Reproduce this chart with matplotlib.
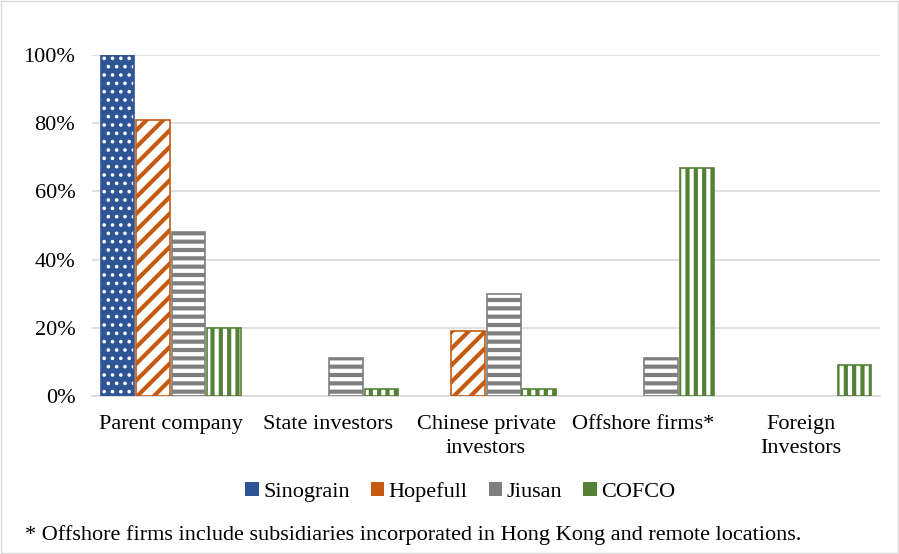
import matplotlib.pyplot as plt
import numpy as np
from matplotlib.patches import Rectangle

plt.rcParams['font.family'] = ['Liberation Serif', 'DejaVu Serif']

categories = ['Parent company', 'State investors', 'Chinese private\ninvestors',
              'Offshore firms*', 'Foreign\nInvestors']
series = ['Sinograin', 'Hopefull', 'Jiusan', 'COFCO']
sinograin = [1.00, 0, 0, 0, 0]
hopefull = [0.81, 0, 0.19, 0, 0]
jiusan = [0.48, 0.11, 0.30, 0.11, 0]
cofco = [0.20, 0.02, 0.02, 0.67, 0.09]
yticks = [0, 0.2, 0.4, 0.6, 0.8, 1.0]
footnote = '* Offshore firms include subsidiaries incorporated in Hong Kong and remote locations.'

values = [sinograin, hopefull, jiusan, cofco]
colors = ['#2F5597', '#C55A11', '#7F7F7F', '#538135']
# (face, hatch colour, hatch, hatch linewidth)
styles = [
    ('#2F5597', 'white', '..', 1.4),
    ('white', '#C55A11', '//', 3.0),
    ('#7F7F7F', 'white', '--', 3.0),
    ('white', '#538135', '||', 3.0),
]

fig = plt.figure(figsize=(8.99, 5.54), dpi=100)
ax = fig.add_axes([92 / 899, 1 - 396 / 554, 788 / 899, 341 / 554])

x = np.arange(len(categories))
w = 0.225
for i, (name, vals) in enumerate(zip(series, values)):
    face, hcol, hatch, hlw = styles[i]
    vals = np.array(vals)
    keep = vals > 0
    pos = (x + (i - 1.5) * w)[keep]
    with plt.rc_context({'hatch.linewidth': hlw}):
        ax.bar(pos, vals[keep], w * 0.95, color=face, edgecolor=hcol, hatch=hatch,
               linewidth=0, zorder=3)
    ax.bar(pos, vals[keep], w * 0.95, fill=False, edgecolor=colors[i], linewidth=1.2,
           zorder=4)

ax.set_xlim(-0.5, len(categories) - 0.5)
ax.set_ylim(0, 1.0)
ax.set_yticks(yticks)
ax.set_yticklabels([f'{int(round(t * 100))}%' for t in yticks], fontsize=16)
ax.set_xticks(x)
ax.set_xticklabels(categories, fontsize=16, linespacing=1.35)
ax.tick_params(axis='x', length=0, pad=14)
ax.tick_params(axis='y', length=0, pad=12)
ax.yaxis.grid(True, color='#D9D9D9', linewidth=1.2, zorder=0)
for s in ['top', 'right', 'left']:
    ax.spines[s].set_visible(False)
ax.spines['bottom'].set_color('#D9D9D9')
ax.spines['bottom'].set_linewidth(1.2)

# legend with small filled squares
handles = []
for i, name in enumerate(series):
    handles.append(Rectangle((0, 0), 1, 1, facecolor=colors[i], edgecolor=colors[i],
                             linewidth=0))
leg = fig.legend(handles, series, loc='center', bbox_to_anchor=(0.512, 1 - 492 / 554), ncol=4,
                 frameon=False, fontsize=16, handlelength=0.6, handleheight=0.6,
                 handletextpad=0.2, columnspacing=0.95)

fig.text(25 / 899, 1 - 535 / 554, footnote, fontsize=16, va='center', ha='left')

fig.patches.append(Rectangle((0.001, 0.001), 0.998, 0.998, transform=fig.transFigure,
                             fill=False, edgecolor='#D9D9D9', linewidth=1))

fig.savefig('out.png', dpi=100)
